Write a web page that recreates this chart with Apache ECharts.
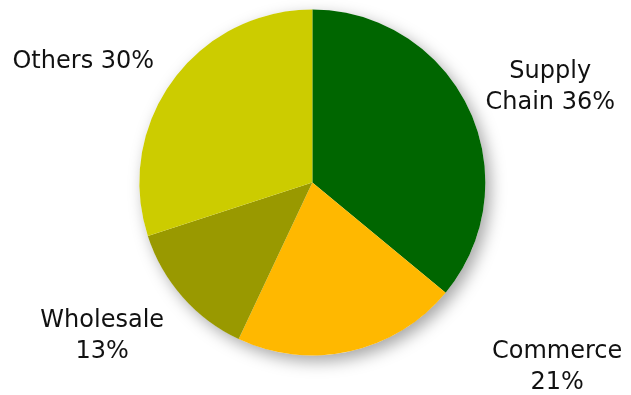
<!DOCTYPE html>
<html>
<head>
<meta charset="utf-8">
<script src="https://cdn.jsdelivr.net/npm/echarts@6/dist/echarts.min.js"></script>
<style>
  html, body { margin: 0; padding: 0; background: #ffffff; }
  #chart { width: 631px; height: 395px; }
</style>
</head>
<body>
<div id="chart"></div>
<script>
// Revenue mix by segment
const segments = ['Supply Chain', 'Commerce', 'Wholesale', 'Others'];
const shares = [36, 21, 13, 30];
const labelTexts = ['Supply\nChain 36%', 'Commerce\n21%', 'Wholesale\n13%', 'Others 30%'];
const colors = ['#006600', '#FFB800', '#999900', '#CCCC00'];

// Where each label sits, as a fraction of the chart box
const labelSpots = {
  'Supply Chain': [0.872, 0.222],
  'Commerce': [0.883, 0.930],
  'Wholesale': [0.162, 0.851],
  'Others': [0.132, 0.157]
};

const chart = echarts.init(document.getElementById('chart'), null, { renderer: 'canvas' });
const W = 631, H = 395;

const pieCenter = ['49.5%', '46.2%'];
const pieRadius = 173;

chart.setOption({
  backgroundColor: '#ffffff',
  animation: false,
  series: [
    {
      // soft drop shadow under the pie
      type: 'pie',
      silent: true,
      center: pieCenter,
      radius: pieRadius,
      z: 1,
      label: { show: false },
      labelLine: { show: false },
      itemStyle: {
        color: '#ffffff',
        shadowBlur: 16,
        shadowColor: 'rgba(0,0,0,0.35)',
        shadowOffsetX: 5,
        shadowOffsetY: 6
      },
      data: [{ value: 1, name: '' }]
    },
    {
      type: 'pie',
      center: pieCenter,
      radius: pieRadius,
      startAngle: 90,
      clockwise: true,
      z: 2,
      itemStyle: { borderWidth: 0 },
      data: segments.map((name, i) => ({
        name,
        value: shares[i],
        itemStyle: { color: colors[i] },
        label: { formatter: labelTexts[i] }
      })),
      label: {
        show: true,
        position: 'inside',
        overflow: 'none',
        fontFamily: 'DejaVu Sans',
        fontSize: 24,
        lineHeight: 31,
        color: '#111111',
        align: 'center'
      },
      labelLine: { show: false },
      labelLayout: function (params) {
        const name = segments[params.dataIndex];
        const spot = labelSpots[name];
        return {
          x: spot[0] * W,
          y: spot[1] * H,
          align: 'center',
          verticalAlign: 'middle'
        };
      }
    }
  ]
});
</script>
</body>
</html>
